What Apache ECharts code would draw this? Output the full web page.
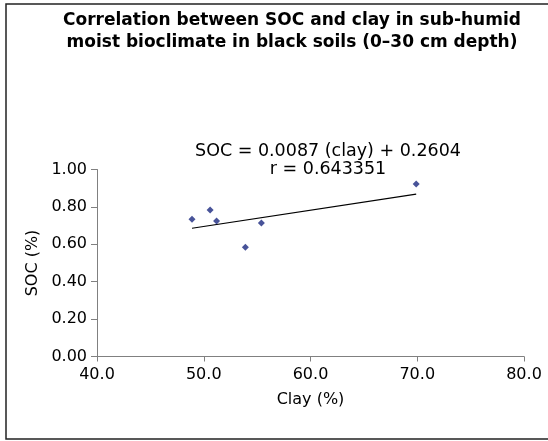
<!DOCTYPE html>
<html><head><meta charset="utf-8">
<script src="https://cdn.jsdelivr.net/npm/echarts@6/dist/echarts.min.js"></script>
<style>html,body{margin:0;padding:0;background:#fff}#c{width:548px;height:441px}</style>
</head><body><div id="c"></div>
<script>
const titleLines = ['Correlation between SOC and clay in sub-humid', 'moist bioclimate in black soils (0\u201330 cm depth)'];
const clay = [48.9, 50.6, 51.2, 53.9, 55.4, 69.9];
const soc = [0.734, 0.783, 0.725, 0.584, 0.714, 0.922];
const slope = 0.0087, intercept = 0.2604;
const trendX = [48.9, 69.9];
const eqLines = ['SOC = 0.0087 (clay) + 0.2604', 'r = 0.643351'];
const xTicks = [40, 80, 10];
const yTicks = [0, 1, 0.2];

const F = '"DejaVu Sans", Verdana, sans-serif';
const chart = echarts.init(document.getElementById('c'), null, {renderer:'canvas'});
chart.setOption({
  animation:false,
  backgroundColor:'#fff',
  graphic:[
    {type:'rect', shape:{x:6, y:4, width:600, height:435}, style:{fill:'none', stroke:'#222', lineWidth:1.5}, silent:true},
    {type:'text', style:{text:titleLines.join('\n'), x:292, y:10, textAlign:'center', font:'bold 17px ' + F, fill:'#000', lineHeight:22}},
    {type:'text', style:{text:eqLines.join('\n'), x:328, y:142, textAlign:'center', font:'17.5px ' + F, fill:'#000', lineHeight:18}}
  ],
  grid:{left:97, right:24, top:169.5, bottom:84.5},
  xAxis:{type:'value', min:xTicks[0], max:xTicks[1], interval:xTicks[2],
    name:'Clay (%)', nameLocation:'middle', nameGap:35,
    nameTextStyle:{fontFamily:F, fontSize:16, color:'#000'},
    axisLine:{lineStyle:{color:'#808080', width:1}},
    axisTick:{show:true, length:5, lineStyle:{color:'#808080'}},
    axisLabel:{fontFamily:F, fontSize:16, color:'#000', margin:10, formatter:v=>v.toFixed(1)},
    splitLine:{show:false}},
  yAxis:{type:'value', min:yTicks[0], max:yTicks[1], interval:yTicks[2],
    name:'SOC (%)', nameLocation:'middle', nameGap:56, nameRotate:90,
    nameTextStyle:{fontFamily:F, fontSize:16, color:'#000'},
    axisLine:{show:true, lineStyle:{color:'#808080', width:1}},
    axisTick:{show:true, length:6, lineStyle:{color:'#808080'}},
    axisLabel:{fontFamily:F, fontSize:16, color:'#000', margin:10, formatter:v=>v.toFixed(2)},
    splitLine:{show:false}},
  series:[
    {type:'line', data:trendX.map(x=>[x, slope*x+intercept]), symbol:'none',
      lineStyle:{color:'#000', width:1.2}, z:1},
    {type:'scatter', data:clay.map((c,i)=>[c, soc[i]]), symbol:'diamond', symbolSize:7,
      itemStyle:{color:'#1a2880'}, z:2}
  ]
});
</script></body></html>
